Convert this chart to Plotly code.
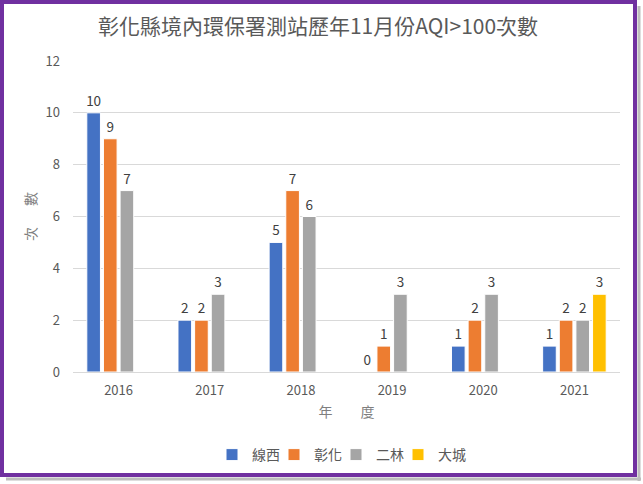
import plotly.graph_objects as go

years = ["2016", "2017", "2018", "2019", "2020", "2021"]
xianxi = [10, 2, 5, 0, 1, 1]
changhua = [9, 2, 7, 1, 2, 2]
erlin = [7, 3, 6, 3, 3, 2]
dacheng = [None, None, None, None, None, 3]

series = [
    ("線西", xianxi, "#4472C4"),
    ("彰化", changhua, "#ED7D31"),
    ("二林", erlin, "#A5A5A5"),
    ("大城", dacheng, "#FFC000"),
]

FONT = "Noto Sans CJK TC"
W, H = 643, 484
L, R, T, B = 73, 23, 61, 112
PW, PH = W - L - R, H - T - B

fig = go.Figure()
for name, vals, col in series:
    fig.add_trace(go.Bar(
        x=years, y=vals, name=name,
        marker=dict(color=col, line=dict(color="white", width=1)),
        text=[("" if v is None else str(v)) for v in vals],
        textposition="outside", constraintext="none",
        textfont=dict(family=FONT, size=13.5, color="#404040"),
        cliponaxis=False,
    ))

# invisible spacer entry so the last legend label is not clipped
fig.add_trace(go.Scatter(x=[None], y=[None], mode="markers", name="\u3000",
                         marker=dict(color="rgba(0,0,0,0)", size=1,
                                     line=dict(width=0, color="rgba(0,0,0,0)")),
                         hoverinfo="skip"))

def px_x(p):
    return (p - L) / PW

def px_y(p):
    return (H - B - p) / PH

shapes = []
# shadow
shapes.append(dict(type="line", xref="paper", yref="paper",
                   x0=px_x(639), x1=px_x(639), y0=px_y(6), y1=px_y(481),
                   line=dict(color="#BDBDBD", width=3)))
shapes.append(dict(type="line", xref="paper", yref="paper",
                   x0=px_x(6), x1=px_x(641), y0=px_y(479), y1=px_y(479),
                   line=dict(color="#BDBDBD", width=3)))
# purple border
shapes.append(dict(type="rect", xref="paper", yref="paper",
                   x0=px_x(2), x1=px_x(635), y0=px_y(2), y1=px_y(475),
                   line=dict(color="#7030A0", width=4), fillcolor="rgba(0,0,0,0)"))

fig.update_layout(
    width=W, height=H,
    margin=dict(l=L, r=R, t=T, b=B),
    paper_bgcolor="white", plot_bgcolor="white",
    barmode="group", bargap=0.27, bargroupgap=0.18,
    font=dict(family=FONT, color="#595959"),
    title=dict(text="彰化縣境內環保署測站歷年11月份AQI>100次數",
               x=318 / W, xanchor="center", xref="container",
               y=1 - 27 / H, yanchor="middle", yref="container",
               font=dict(family=FONT, size=21, color="#595959")),
    xaxis=dict(title=dict(text="年\u3000\u3000度\u3000", font=dict(size=14, color="#7F7F7F"), standoff=9),
               tickfont=dict(size=13, color="#595959"),
               ticklabelstandoff=6,
               showline=True, linecolor="#D9D9D9", linewidth=1,
               showgrid=False, ticks="", automargin=False),
    yaxis=dict(title=dict(text="次\u3000\u2002數", font=dict(size=14, color="#7F7F7F"), standoff=5),
               range=[0, 12], dtick=2,
               tickfont=dict(size=13, color="#595959"),
               ticklabelstandoff=12,
               showgrid=True, gridcolor="#D9D9D9", gridwidth=1,
               zeroline=False, showline=False, automargin=False),
    legend=dict(orientation="h", xref="container", x=212 / W, xanchor="left",
                yref="container", y=1 - 455 / H, yanchor="middle",
                font=dict(size=14, color="#595959"),
                itemwidth=30, entrywidth=17, traceorder="normal"),
    shapes=shapes,
)

fig.write_html("out.html", config={"displayModeBar": False},
               post_script="document.body.style.margin='0';")
